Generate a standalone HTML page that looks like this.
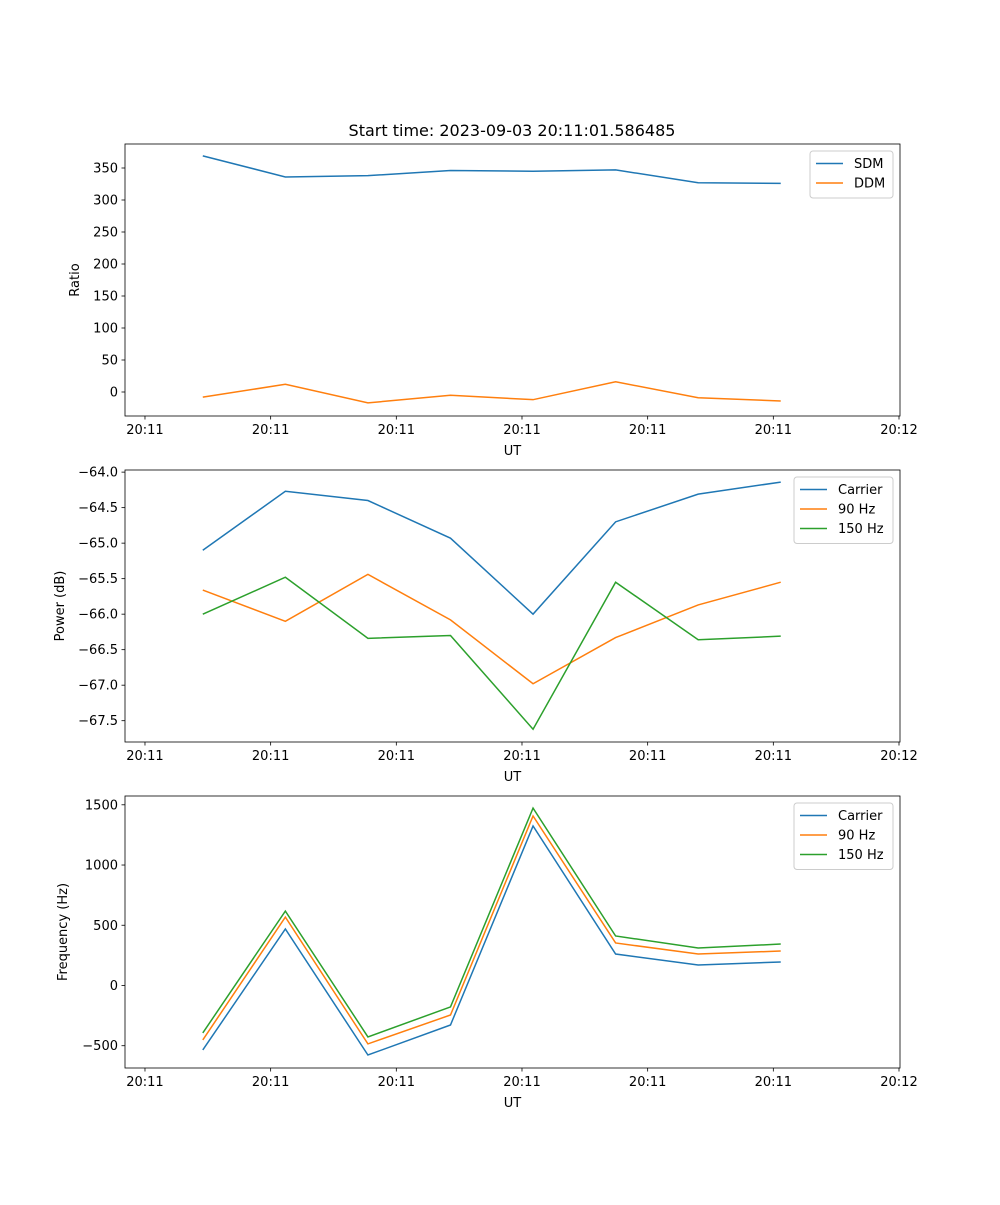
<!DOCTYPE html>
<html><head><meta charset="utf-8"><style>
body{margin:0;background:#fff}
svg text{font-family:"DejaVu Sans","Liberation Sans",sans-serif;fill:#000}
</style></head><body>
<svg id="fig" width="1000" height="1200" xmlns="http://www.w3.org/2000/svg"></svg>
<script>
const times=[4.6,11.17,17.74,24.31,30.88,37.45,44.02,50.59];
const xTickVals=[0,10,20,30,40,50,60];
const xTickLabels=["20:11","20:11","20:11","20:11","20:11","20:11","20:12"];
const sdm=[369,336,338,346,345,347,327,326];
const ddm=[-8,12,-17,-5,-12,16,-9,-14];
const pCarrier=[-65.10,-64.27,-64.40,-64.93,-66.0,-64.70,-64.31,-64.14];
const p90=[-65.66,-66.10,-65.44,-66.08,-66.98,-66.33,-65.87,-65.55];
const p150=[-66.0,-65.48,-66.34,-66.30,-67.62,-65.55,-66.36,-66.31];
const fCarrier=[-535,469,-577,-328,1324,261,170,195];
const f90=[-452,568,-485,-245,1407,353,261,286];
const f150=[-394,618,-427,-178,1473,411,311,344];
const ticks1=[0,50,100,150,200,250,300,350];
const ticks2=[-67.5,-67.0,-66.5,-66.0,-65.5,-65.0,-64.5,-64.0];
const ticks3=[-500,0,500,1000,1500];

const svg=document.getElementById('fig');
const NS='http://www.w3.org/2000/svg';
function mk(tag,attrs,parent){const e=document.createElementNS(NS,tag);for(const k in attrs)e.setAttribute(k,attrs[k]);(parent||svg).appendChild(e);return e;}
const L=125,R=900,xmin=-1.59,xmax=60.08;
function xs(t){return L+(t-xmin)/(xmax-xmin)*(R-L);}
const C=['#1f77b4','#ff7f0e','#2ca02c'];

function panel(name,top,bot,ymin,ymax,yticks,fmt,ylabel,series,names,legW){
  const g=mk('g',{},svg);
  
  
  const ys=v=>bot-(v-ymin)/(ymax-ymin)*(bot-top);
  series.forEach((s,si)=>{
    const p=mk('polyline',{points:s.map((v,i)=>xs(times[i])+','+ys(v)).join(' '),fill:'none',stroke:C[si],'stroke-width':1.5},g);
    
    
  });
  mk('rect',{x:L,y:top,width:R-L,height:bot-top,fill:'none',stroke:'#000','stroke-width':0.8},g);
  xTickVals.forEach((t,i)=>{const x=xs(t);
    mk('line',{x1:x,x2:x,y1:bot,y2:bot+3.5,stroke:'#000','stroke-width':0.8},g);
    const tx=mk('text',{x:x,y:bot+18,'text-anchor':'middle','font-size':13},g);tx.textContent=xTickLabels[i];
    
    
  });
  const xl=mk('text',{x:(L+R)/2,y:bot+39,'text-anchor':'middle','font-size':13},g);xl.textContent='UT';
  
  
  yticks.forEach(v=>{const y=ys(v);
    mk('line',{x1:L-3.5,x2:L,y1:y,y2:y,stroke:'#000','stroke-width':0.8},g);
    const tx=mk('text',{x:L-7,y:y+4.5,'text-anchor':'end','font-size':13},g);tx.textContent=fmt(v);
    
    
  });
  const yl=mk('text',{transform:`translate(${ylabel[1]},${(top+bot)/2}) rotate(-90)`,'text-anchor':'middle','font-size':13},g);yl.textContent=ylabel[0];
  
  
  const lg=mk('g',{},g);
  
  
  const lx=R-7-legW,ly=top+7,h=8+names.length*19.5;
  mk('rect',{x:lx,y:ly,width:legW,height:h,rx:3,fill:'#fff',stroke:'#ccc','stroke-width':1},lg);
  names.forEach((n,i)=>{const yy=ly+12.5+i*19.5;
    mk('line',{x1:lx+6,x2:lx+33,y1:yy,y2:yy,stroke:C[i],'stroke-width':1.5},lg);
    const t=mk('text',{x:lx+44,y:yy+4.5,'font-size':13},lg);t.textContent=n;
    
    
  });
}
const title=mk('text',{x:512,y:136,'text-anchor':'middle','font-size':16});
title.textContent='Start time: 2023-09-03 20:11:01.586485';


panel('ratio-panel',144,416,-37.5,387.5,ticks1,v=>String(v),['Ratio',79],[sdm,ddm],['SDM','DDM'],83);
panel('power-panel',470,742,-67.80,-63.97,ticks2,v=>(v<0?'−':'')+Math.abs(v).toFixed(1),['Power (dB)',64],[pCarrier,p90,p150],['Carrier','90 Hz','150 Hz'],99);
panel('frequency-panel',796,1068,-685,1573,ticks3,v=>(v<0?'−':'')+Math.abs(v),['Frequency (Hz)',67],[fCarrier,f90,f150],['Carrier','90 Hz','150 Hz'],99);
</script>
</body></html>
